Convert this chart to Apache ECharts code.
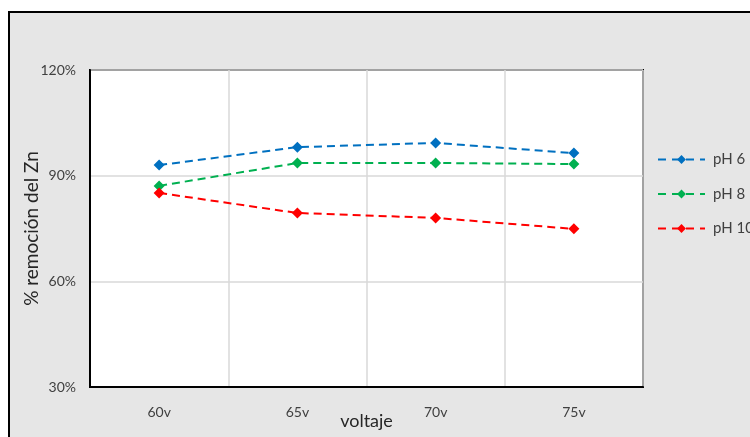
<!DOCTYPE html>
<html><head><meta charset="utf-8">
<script src="https://cdn.jsdelivr.net/npm/echarts@6/dist/echarts.min.js"></script>
<style>html,body{margin:0;padding:0;background:#fff}#c{width:750px;height:437px}</style>
</head><body><div id="c"></div>
<script>
const categories = ['60v', '65v', '70v', '75v'];
const ph6 = [93.0, 98.1, 99.3, 96.4];
const ph8 = [87.1, 93.6, 93.6, 93.3];
const ph10 = [85.1, 79.4, 78.0, 74.9];
const seriesNames = ['pH 6', 'pH 8', 'pH 10'];
const colors = ['#0070C0', '#00B050', '#FF0000'];
const yMin = 30, yMax = 120, yStep = 30;

const font = 'Lato, "Liberation Sans", sans-serif';
const chart = echarts.init(document.getElementById('c'));
function mk(name, data, color) {
  return {
    name, type: 'line', data, symbol: 'diamond', symbolSize: 11,
    itemStyle: { color },
    lineStyle: { color, width: 2, type: [8, 5] },
    z: 5
  };
}
chart.setOption({
  backgroundColor: '#fff',
  animation: false,
  textStyle: { fontFamily: font },
  graphic: [{
    type: 'rect', z: -10, silent: true,
    shape: { x: 9, y: 12, width: 760, height: 440 },
    style: { fill: '#e6e6e6', stroke: '#000', lineWidth: 2 }
  }],
  grid: {
    left: 90, top: 70, width: 553, height: 317, show: true,
    outerBoundsMode: 'none', containLabel: false,
    backgroundColor: '#fff', borderColor: '#000', borderWidth: 2, z: 0
  },
  legend: {
    orient: 'vertical', left: 657, top: 152, itemGap: 19.5, padding: 0,
    itemWidth: 47, itemHeight: 11,
    lineStyle: { type: [8, 6] },
    textStyle: { fontFamily: font, fontSize: 15, color: '#404040', padding: [0, 0, 0, 3] },
    data: seriesNames
  },
  xAxis: {
    type: 'category', data: categories, boundaryGap: true,
    name: 'voltaje', nameLocation: 'middle', nameGap: 25, nameMoveOverlap: false,
    nameTextStyle: { fontFamily: font, fontSize: 18, color: '#262626' },
    axisLine: { lineStyle: { color: '#000', width: 2 } },
    axisTick: { show: false },
    axisLabel: { fontFamily: font, fontSize: 14, color: '#404040', margin: 18 },
    splitLine: { show: true, interval: 0, lineStyle: { color: '#d9d9d9', width: 1.5 } }
  },
  yAxis: {
    type: 'value', min: yMin, max: yMax, interval: yStep,
    name: '% remoción del Zn', nameLocation: 'middle', nameGap: 49, nameRotate: 90, nameMoveOverlap: false,
    nameTextStyle: { fontFamily: font, fontSize: 19, color: '#262626' },
    axisLine: { show: true, lineStyle: { color: '#000', width: 2 } },
    axisTick: { show: false },
    axisLabel: { fontFamily: font, fontSize: 14, color: '#404040', margin: 14, formatter: '{value}%' },
    splitLine: { show: true, lineStyle: { color: '#d9d9d9', width: 1.5 } }
  },
  series: [mk(seriesNames[0], ph6, colors[0]), mk(seriesNames[1], ph8, colors[1]), mk(seriesNames[2], ph10, colors[2])]
});
</script></body></html>
